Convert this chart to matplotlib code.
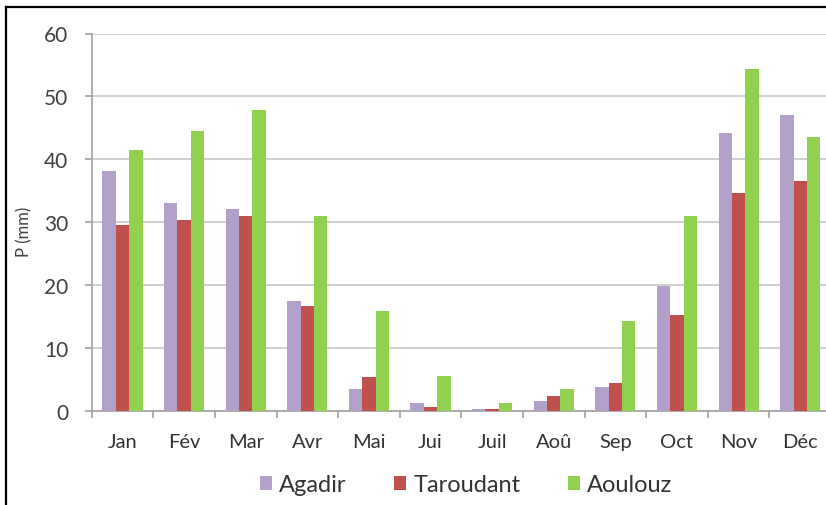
import matplotlib
matplotlib.use("Agg")
import matplotlib.pyplot as plt
import numpy as np
from matplotlib.lines import Line2D

months = ["Jan", "Fév", "Mar", "Avr", "Mai", "Jui", "Juil", "Aoû", "Sep", "Oct", "Nov", "Déc"]
agadir = [38.1, 33.0, 32.1, 17.4, 3.5, 1.2, 0.3, 1.5, 3.8, 19.9, 44.2, 47.0]
taroudant = [29.5, 30.4, 31.0, 16.7, 5.3, 0.6, 0.3, 2.4, 4.4, 15.3, 34.7, 36.6]
aoulouz = [41.5, 44.5, 47.8, 31.0, 15.8, 5.5, 1.3, 3.5, 14.3, 31.0, 54.3, 43.6]
series = [("Agadir", agadir, "#b1a0c7"), ("Taroudant", taroudant, "#c0504d"), ("Aoulouz", aoulouz, "#92d050")]

plt.rcParams['font.family'] = ['Lato', 'DejaVu Sans']

fig = plt.figure(figsize=(8.26, 5.06), dpi=100)
ax = fig.add_axes([91.7/826, (506-411.7)/506, (831-91.7)/826, (411.7-34.5)/506])

x = np.arange(len(months))
w = 0.217
for i, (name, vals, col) in enumerate(series):
    ax.bar(x + (i-1)*w, vals, width=w, color=col, label=name, zorder=3)

ax.set_xlim(-0.5, 11.5)
ax.set_ylim(0, 60)
ax.set_yticks(range(0, 61, 10))
ax.yaxis.grid(True, color="#d0d0d0", linewidth=1.4, zorder=0)
ax.set_xticks(x)
ax.set_xticklabels(months)
ax.set_xticks(np.arange(-0.5, 12, 1), minor=True)
ax.tick_params(axis='x', which='major', length=0, pad=16, labelsize=14.5, labelcolor="#333333")
ax.tick_params(axis='x', which='minor', length=5, color="#a0a0a0", width=1.2)
ax.tick_params(axis='y', length=5, color="#a0a0a0", width=1.2, pad=12, labelsize=15, labelcolor="#404040")
for s in ["top", "right"]:
    ax.spines[s].set_visible(False)
for s in ["left", "bottom"]:
    ax.spines[s].set_color("#a0a0a0")
    ax.spines[s].set_linewidth(1.2)
ax.set_ylabel("P (mm)", fontsize=12, color="#404040")
ax.yaxis.set_label_coords(32/826, 1-232/506, transform=fig.transFigure)

ax.legend(loc="center", bbox_to_anchor=(466/826, 1-486/506), bbox_transform=fig.transFigure,
          ncol=3, frameon=False, fontsize=17, handlelength=0.52, handleheight=0.52,
          handletextpad=0.3, columnspacing=2.0, labelcolor="#333333")

fig.add_artist(Line2D([6/826, 6/826], [0, 1-8/506], transform=fig.transFigure, color="black", linewidth=1.6))
fig.add_artist(Line2D([6/826, 1], [1-8/506, 1-8/506], transform=fig.transFigure, color="black", linewidth=1.6))

fig.savefig("out.png", dpi=100)
